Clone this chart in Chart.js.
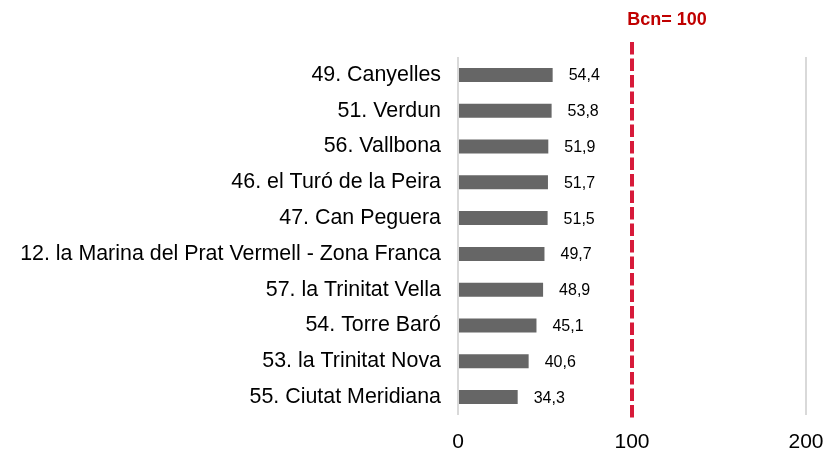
<!DOCTYPE html>
<html>
<head>
  <meta charset="UTF-8">
  <title>Barris - Bcn = 100</title>
  <script src="https://cdn.jsdelivr.net/npm/chart.js"></script>
  <style>
    body {
      margin: 0;
      background: #fff;
      font-family: "Liberation Sans", Arial, sans-serif;
    }
    #wrap {
      width: 834px;
      height: 451px;
      position: relative;
    }
  </style>
</head>
<body>
<div id="wrap">
  <canvas id="chart"></canvas>
</div>

<script>
  // Data
  const barris = [
    '49. Canyelles',
    '51. Verdun',
    '56. Vallbona',
    '46. el Turó de la Peira',
    '47. Can Peguera',
    '12. la Marina del Prat Vermell - Zona Franca',
    '57. la Trinitat Vella',
    '54. Torre Baró',
    '53. la Trinitat Nova',
    '55. Ciutat Meridiana'
  ];
  const valors = [54.4, 53.8, 51.9, 51.7, 51.5, 49.7, 48.9, 45.1, 40.6, 34.3];
  const referencia = 100;
  const referenciaLabel = 'Bcn= 100';
  const xTicks = [0, 100, 200];

  const FONT = '"Liberation Sans", Arial, sans-serif';

  // Value labels at the end of each bar
  const valueLabels = {
    id: 'valueLabels',
    afterDatasetsDraw(chart) {
      const ctx = chart.ctx;
      const meta = chart.getDatasetMeta(0);
      ctx.save();
      ctx.font = '16px ' + FONT;
      ctx.fillStyle = '#000';
      ctx.textAlign = 'left';
      ctx.textBaseline = 'middle';
      meta.data.forEach((bar, i) => {
        const txt = valors[i].toFixed(1).replace('.', ',');
        ctx.fillText(txt, bar.x + 16, bar.y + 1);
      });
      ctx.restore();
    }
  };

  // Red dashed reference line at Bcn = 100
  const refLine = {
    id: 'refLine',
    afterDatasetsDraw(chart) {
      const ctx = chart.ctx;
      const x = chart.scales.x.getPixelForValue(referencia);
      const area = chart.chartArea;
      ctx.save();
      ctx.strokeStyle = '#d71a3a';
      ctx.lineWidth = 4;
      ctx.setLineDash([12.5, 4]);
      ctx.beginPath();
      ctx.moveTo(x, area.top - 15);
      ctx.lineTo(x, area.bottom + 5);
      ctx.stroke();
      ctx.setLineDash([]);
      ctx.font = 'bold 18px ' + FONT;
      ctx.fillStyle = '#c00000';
      ctx.textAlign = 'center';
      ctx.textBaseline = 'middle';
      ctx.fillText(referenciaLabel, x + 35, 20);
      ctx.restore();
    }
  };

  const chart = new Chart(document.getElementById('chart'), {
    type: 'bar',
    data: {
      labels: barris,
      datasets: [{
        data: valors,
        backgroundColor: '#666666',
        borderWidth: 0,
        categoryPercentage: 1,
        barPercentage: 0.39
      }]
    },
    options: {
      indexAxis: 'y',
      responsive: true,
      maintainAspectRatio: false,
      animation: false,
      layout: {
        padding: { top: 57, right: 28, bottom: 0, left: 20 }
      },
      plugins: {
        legend: { display: false },
        tooltip: { enabled: false }
      },
      scales: {
        x: {
          min: 0,
          max: 200,
          afterBuildTicks(axis) {
            axis.ticks = xTicks.map(v => ({ value: v }));
          },
          afterFit(axis) {
            axis.height = 36;
            axis.paddingLeft = 0;
            axis.paddingRight = 0;
          },
          border: { display: false },
          grid: {
            drawTicks: false,
            lineWidth: 2,
            color: c => c.tick && c.tick.value === referencia ? 'rgba(0,0,0,0)' : '#d9d9d9'
          },
          ticks: {
            padding: 17,
            maxRotation: 0,
            color: '#000',
            font: { size: 21, family: FONT, lineHeight: 1 }
          }
        },
        y: {
          afterFit(axis) {
            axis.width = 438;
            axis.paddingTop = 0;
            axis.paddingBottom = 0;
          },
          border: { display: false },
          grid: { display: false, drawTicks: false },
          ticks: {
            padding: 17,
            color: '#000',
            font: { size: 21.4, family: FONT }
          }
        }
      }
    },
    plugins: [valueLabels, refLine]
  });
</script>
</body>
</html>
